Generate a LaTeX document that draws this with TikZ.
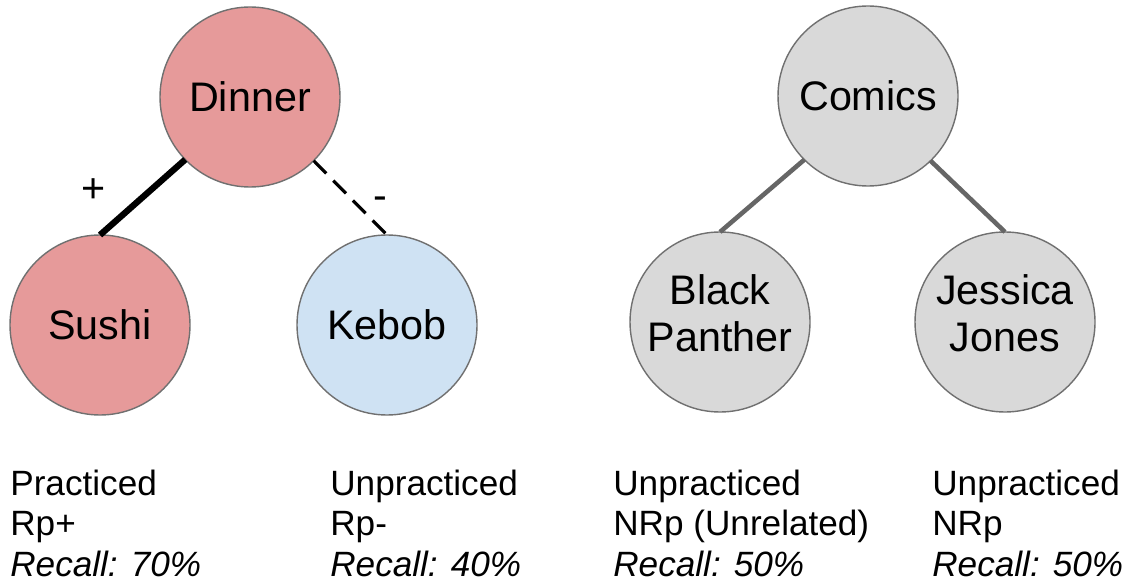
\documentclass[tikz,border=0pt]{standalone}
\usepackage{fontspec}
\setmainfont{Liberation Sans}
\usetikzlibrary{positioning}
\definecolor{nodered}{HTML}{E69A9A}
\definecolor{nodeblue}{HTML}{CFE2F3}
\definecolor{nodegray}{HTML}{D9D9D9}
\definecolor{rimgray}{HTML}{707070}
\definecolor{edgegray}{HTML}{666666}
\tikzset{
    mynode/.style = {circle, draw=rimgray, line width=0.8pt, minimum size=3.6cm, inner sep=0pt, outer sep=0pt, align=center, font=\fontsize{23.5}{26.7}\selectfont},
    mynoder/.style = {mynode, fill=nodered},
    mynodeb/.style = {mynode, fill=nodeblue},
    mynodeg/.style = {mynode, fill=nodegray},
    mynodegg/.style = {mynodeg, text depth=0.36cm}, % two lines
    edgep/.style = {line width=3.6pt, black},
    edgem/.style = {line width=1.8pt, black, dash pattern=on 0.36cm off 0.2cm},
    edgeg/.style = {line width=2.6pt, edgegray},
    sign/.style = {inner sep=0pt, font=\fontsize{23.5}{26.7}\selectfont},
    info/.style = {anchor=base west, align=left, inner sep=0pt, font=\fontsize{20}{22.8}\selectfont}
}

\begin{document}
\begin{tikzpicture}
\useasboundingbox (0,0) rectangle (22.5,-11.64);
\node[mynoder] at (5.0, -1.94) (dinner) {Dinner};
\node[mynoder] at (2.0, -6.5) (sushi) {Sushi};
\node[mynodeb] at (7.74, -6.5) (kebob) {Kebob};
\node[mynodeg] at (17.36, -1.92) (comics) {Comics};
\node[mynodegg] at (14.4, -6.44) (panther) {Black\\Panther};
\node[mynodegg] at (20.1, -6.44) (jessica) {Jessica\\Jones};
%
\draw[edgep] (dinner.224) -- node[sign, left=0.68cm, yshift=0.14cm] {+} (sushi.north);
\draw[edgem] (dinner.315) -- node[sign, right=0.44cm, yshift=-0.1cm] {-} (kebob.north);
\draw[edgeg] (comics.225) -- (panther.north);
\draw[edgeg] (comics.314) -- (jessica.north);

\node[info] at (0.2, -11.52) (txtsushi) {Practiced\\Rp+\\\textit{Recall: 70\%}};
\node[info] at (6.6, -11.52) (txtkebob) {Unpracticed\\Rp-\\\textit{Recall: 40\%}};
\node[info] at (12.26, -11.52) (txtpanther) {Unpracticed\\NRp (Unrelated)\\\textit{Recall: 50\%}};
\node[info] at (18.64, -11.52) (txtjessica) {Unpracticed\\NRp\\\textit{Recall: 50\%}};

\end{tikzpicture}
\end{document}
